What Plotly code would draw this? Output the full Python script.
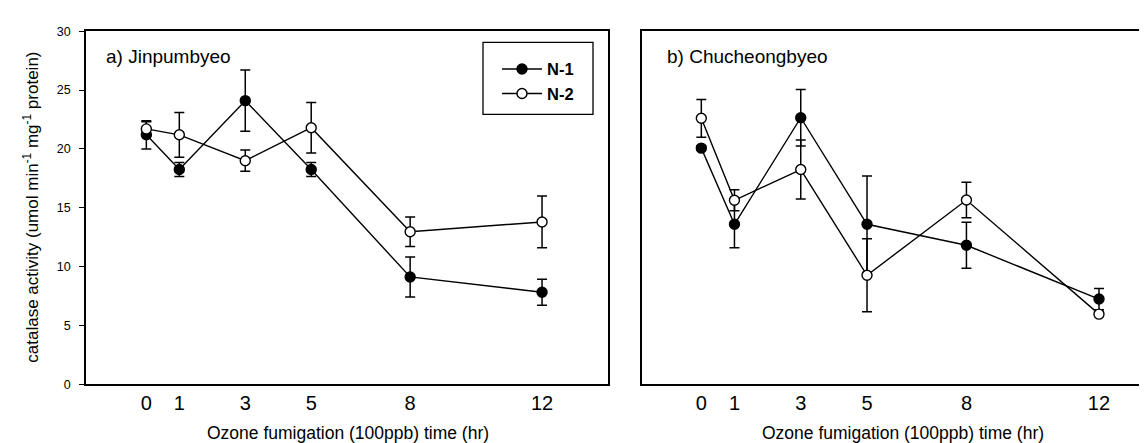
import plotly.graph_objects as go

hours = [0, 1, 3, 5, 8, 12]
tick_labels = ["0", "1", "3", "5", "8", "12"]

# a) Jinpumbyeo
a_n1 = [21.2, 18.25, 24.1, 18.25, 9.13, 7.83]
a_n1_err = [1.2, 0.6, 2.6, 0.6, 1.7, 1.1]
a_n2 = [21.7, 21.2, 19.0, 21.8, 12.97, 13.8]
a_n2_err = [0.6, 1.9, 0.9, 2.15, 1.25, 2.2]

# b) Chucheongbyeo
b_n1 = [20.07, 13.6, 22.65, 13.6, 11.82, 7.25]
b_n1_err = [0.2, 2.0, 2.4, 4.1, 1.95, 0.9]
b_n2 = [22.6, 15.64, 18.25, 9.27, 15.66, 5.97]
b_n2_err = [1.6, 0.9, 2.5, 3.1, 1.5, 0.2]

W, H = 1147, 443
FONT = "Liberation Sans, Arial, sans-serif"

def px_x(p):
    return p / W

def px_y(p):
    return 1 - p / H

fig = go.Figure()

def add_series(x, y, err, name, filled, xa, ya, show):
    fig.add_trace(go.Scatter(
        x=x, y=y, name=name, mode="lines+markers",
        line=dict(color="black", width=1.4),
        marker=dict(symbol="circle", size=10,
                    color="black" if filled else "white",
                    line=dict(color="black", width=1.4)),
        error_y=dict(type="data", array=err, visible=True,
                     color="black", thickness=1.5, width=5),
        xaxis=xa, yaxis=ya, showlegend=show,
    ))

add_series(hours, a_n1, a_n1_err, "N-1", True, "x", "y", True)
add_series(hours, a_n2, a_n2_err, "N-2", False, "x", "y", True)
add_series(hours, b_n1, b_n1_err, "N-1", True, "x2", "y2", False)
add_series(hours, b_n2, b_n2_err, "N-2", False, "x2", "y2", False)

ydom = [px_y(381.5), px_y(16.7)]

axis_common = dict(showgrid=False, zeroline=False, linecolor="black", linewidth=1.5)

fig.update_layout(
    width=W, height=H,
    margin=dict(l=0, r=0, t=0, b=0),
    paper_bgcolor="white", plot_bgcolor="white",
    font=dict(family=FONT, color="black"),
    xaxis=dict(domain=[px_x(78), px_x(600)], range=[-1.83, 14.0],
               tickmode="array", tickvals=hours, ticktext=tick_labels,
               ticks="", showline=True, mirror=True,
               tickfont=dict(size=20, family=FONT), ticklabelstandoff=0,
               anchor="y", **axis_common),
    yaxis=dict(domain=ydom, range=[0, 30], tickvals=[0, 5, 10, 15, 20, 25, 30],
               ticks="outside", ticklen=5, tickwidth=1.3, tickcolor="black",
               showline=True, mirror=True,
               tickfont=dict(size=12.5, family=FONT), ticklabelstandoff=6,
               anchor="x", **axis_common),
    xaxis2=dict(domain=[px_x(634), 1.0], range=[-1.79, 13.69],
                tickmode="array", tickvals=hours, ticktext=tick_labels,
                ticks="", showline=True, mirror=True,
                tickfont=dict(size=20, family=FONT), ticklabelstandoff=0,
                anchor="y2", **axis_common),
    yaxis2=dict(domain=ydom, range=[0, 30], showticklabels=False, ticks="",
                showline=True, mirror=False, anchor="x2", **axis_common),
    legend=dict(x=px_x(489), y=px_y(38), xanchor="left", yanchor="top",
                borderwidth=0, bgcolor="rgba(255,255,255,0)",
                font=dict(size=16.5, family=FONT, weight="bold"), itemwidth=40),
    shapes=[dict(type="rect", xref="paper", yref="paper",
                 x0=px_x(475), x1=px_x(585), y0=px_y(102.7), y1=px_y(28.3),
                 line=dict(color="black", width=1.3), fillcolor="rgba(0,0,0,0)")],
)

ann = [
    dict(text="a) Jinpumbyeo", x=px_x(96), y=px_y(42.7), xanchor="left", yanchor="middle",
         font=dict(size=19)),
    dict(text="b) Chucheongbyeo", x=px_x(657), y=px_y(42.7), xanchor="left", yanchor="middle",
         font=dict(size=19)),
    dict(text="Ozone fumigation (100ppb) time (hr)", x=px_x(340), y=px_y(432),
         xanchor="center", yanchor="middle", font=dict(size=17.5)),
    dict(text="Ozone fumigation (100ppb) time (hr)", x=px_x(895), y=px_y(432),
         xanchor="center", yanchor="middle", font=dict(size=17.5)),
    dict(text="catalase activity (umol min<sup>-1</sup> mg<sup>-1</sup> protein)",
         x=px_x(23), y=px_y(199), xanchor="center", yanchor="middle",
         textangle=-90, font=dict(size=17)),
]
for a in ann:
    a.update(xref="paper", yref="paper", showarrow=False)
    a["font"]["family"] = FONT
    a["font"]["color"] = "black"
fig.update_layout(annotations=ann)

fig.write_html("out.html")
